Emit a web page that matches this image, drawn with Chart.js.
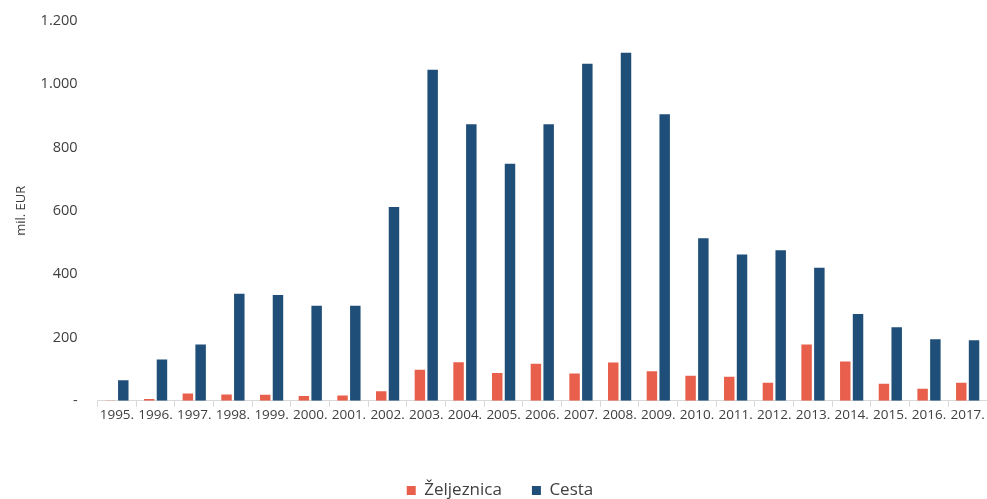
<!DOCTYPE html>
<html>
<head>
<meta charset="utf-8">
<script src="https://cdn.jsdelivr.net/npm/chart.js@4/dist/chart.umd.min.js"></script>
<style>
  html, body { margin: 0; padding: 0; background: #fff; }
  #wrap { width: 987px; height: 499px; }
</style>
</head>
<body>
<div id="wrap"><canvas id="chart"></canvas></div>
<script>
const years = ["1995.", "1996.", "1997.", "1998.", "1999.", "2000.", "2001.", "2002.",
    "2003.", "2004.", "2005.", "2006.", "2007.", "2008.", "2009.", "2010.", "2011.",
    "2012.", "2013.", "2014.", "2015.", "2016.", "2017."];
const zeljeznica = [1, 6, 23, 20, 19, 15, 17, 30, 98, 122, 88, 117, 86, 121, 93, 79, 76, 57, 178, 124, 54, 38, 57];
const cesta = [65, 130, 178, 338, 334, 300, 300, 612, 1045, 873, 748, 873, 1064, 1099, 905, 513, 462, 475, 420, 274, 232, 194, 191];
const yTicks = [0, 200, 400, 600, 800, 1000, 1200];

const textColor = "#404040";
const font = "'Open Sans', 'Noto Sans', sans-serif";

const ctx = document.getElementById("chart").getContext("2d");
new Chart(ctx, {
    type: "bar",
    data: {
        labels: years,
        datasets: [{
                label: "Željeznica",
                data: zeljeznica,
                backgroundColor: "#e8604c"
            },
            {
                label: "Cesta",
                data: cesta,
                backgroundColor: "#1f4e79"
            }]
    },
    options: {
        responsive: true,
        maintainAspectRatio: false,
        animation: false,
        datasets: { bar: { categoryPercentage: 0.66, barPercentage: 0.82 } },
        layout: { padding: { top: 17, right: 0, left: 13, bottom: -10 } },
        plugins: {
            tooltip: { enabled: false },
            legend: {
                position: "bottom",
                labels: {
                    font: { family: font, size: 17 },
                    color: textColor,
                    boxWidth: 9,
                    boxHeight: 9,
                    padding: 30
                }
            }
        },
        scales: {
            x: {
                grid: { offset: true, drawOnChartArea: false, tickLength: 6, color: "#d9d9d9" },
                border: { color: "#d9d9d9" },
                ticks: { font: { family: font, size: 13.5 }, color: textColor, maxRotation: 0, autoSkip: false, padding: 0 },
                afterFit: (axis) => { axis.height += 29; }
            },
            y: {
                min: 0,
                max: 1200,
                afterBuildTicks: (axis) => { axis.ticks = yTicks.map(v => ({ value: v })); },
                grid: { display: false },
                border: { display: false },
                title: { display: true, text: "mil. EUR", font: { family: font, size: 13 }, color: textColor, padding: { top: 0, bottom: 0 } },
                ticks: {
                    font: { family: font, size: 14.5 },
                    color: textColor,
                    padding: 12,
                    callback: (v) => v === 0 ? "-" : v.toLocaleString("de-DE")
                }
            }
        }
    }
});
</script>
</body>
</html>
